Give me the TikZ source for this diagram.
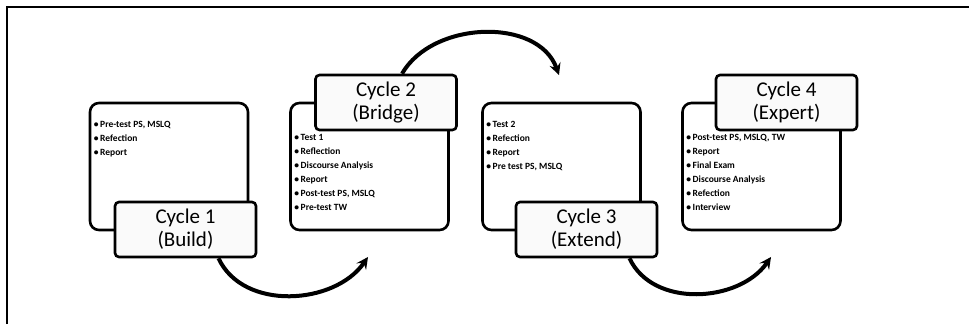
\documentclass[tikz,border=0pt]{standalone}
\usepackage{fontspec}
\setmainfont{Carlito}
\usetikzlibrary{shapes.geometric, arrows}

\begin{document}
\begin{tikzpicture}[x=1pt,y=1pt,
 cyclebox/.style={draw,line width=2.6pt,rounded corners=9pt,minimum width=158pt,minimum height=127pt},
 cyclelabel/.style={draw,line width=2.6pt,rounded corners=4pt,fill=black!2,minimum width=141pt,minimum height=55pt,align=center,inner sep=0pt,font=\fontsize{21}{23}\selectfont},
 tasklist/.style={anchor=north west,align=left,inner sep=0pt,font=\bfseries\fontsize{9.5}{14}\selectfont},
 looparrow/.style={line width=4pt,-stealth}]
 \useasboundingbox (0,0) rectangle (969,324);
 \draw[line width=1.5pt] (7,0) -- (7,317) -- (969,317) ;
%
 \node[cyclebox] (b1) at (169,157.5) {};
 \node[cyclebox] (b2) at (369.5,157.5) {};
 \node[cyclebox] (b3) at (561.5,157.5) {};
 \node[cyclebox] (b4) at (761.5,157.5) {};
%
 \node[tasklist] (t1) at ([xshift=5pt,yshift=-19pt]b1.north west) {\textbullet\,Pre-test PS, MSLQ\\ \textbullet\,Refection\\ \textbullet\,Report};
 \node[tasklist] (t2) at ([xshift=5pt,yshift=-32pt]b2.north west) {\textbullet\,Test 1\\ \textbullet\,Reflection\\ \textbullet\,Discourse Analysis\\ \textbullet\,Report\\ \textbullet\,Post-test PS, MSLQ\\ \textbullet\,Pre-test TW};
 \node[tasklist] (t3) at ([xshift=5pt,yshift=-19pt]b3.north west) {\textbullet\,Test 2\\ \textbullet\,Refection\\ \textbullet\,Report\\ \textbullet\,Pre test PS, MSLQ};
 \node[tasklist] (t4) at ([xshift=5pt,yshift=-32pt]b4.north west) {\textbullet\,Post-test PS, MSLQ, TW\\ \textbullet\,Report\\ \textbullet\,Final Exam\\ \textbullet\,Discourse Analysis\\ \textbullet\,Refection\\ \textbullet\,Interview};
%
 \node[cyclelabel] (c1) at (185.5,94.5) {Cycle 1\\(Build)};
 \node[cyclelabel] (c2) at (386,221.5) {Cycle 2\\(Bridge)};
 \node[cyclelabel] (c3) at (586.5,94.5) {Cycle 3\\(Extend)};
 \node[cyclelabel] (c4) at (786.5,221.5) {Cycle 4\\(Expert)};
%
 \coordinate (e1) at (368,67);
 \coordinate (e2) at (559,249);
 \coordinate (e3) at (771,67);
 \draw[looparrow] ([xshift=33pt]c1.south) to[out=-65,in=-125] (e1);
 \draw[looparrow] ([xshift=16pt]c2.north) to[out=60,in=110] (e2);
 \draw[looparrow] ([xshift=43pt]c3.south) to[out=-65,in=-125] (e3);
\end{tikzpicture}
\end{document}
